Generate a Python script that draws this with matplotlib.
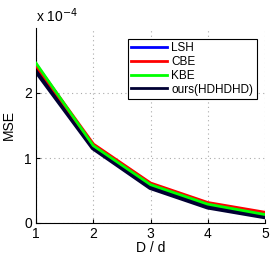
import numpy as np
import matplotlib
matplotlib.use("Agg")
import matplotlib.pyplot as plt

plt.rcParams["font.family"] = ["Liberation Sans", "DejaVu Sans"]

# values, in units of 1e-4
ratio = [1, 2, 3, 4, 5]
lsh = [2.35, 1.16, 0.55, 0.25, 0.10]
cbe = [2.43, 1.21, 0.61, 0.31, 0.16]
kbe = [2.46, 1.19, 0.59, 0.29, 0.13]
ours = [2.35, 1.16, 0.55, 0.25, 0.10]

fig = plt.figure(figsize=(2.74, 2.59), dpi=100)
ax = fig.add_axes([36 / 274, 1 - 223 / 259, 229 / 274, 195 / 259])

ax.plot(ratio, lsh, color="blue", linewidth=2, label="LSH", zorder=2)
ax.plot(ratio, cbe, color="red", linewidth=2.5, label="CBE", zorder=3)
ax.plot(ratio, kbe, color="#00ff00", linewidth=2, label="KBE", zorder=4)
ax.plot(ratio, ours, color="#000033", linewidth=4, label="ours(HDHDHD)", zorder=2.5)

ax.set_xlim(1, 5)
ax.set_ylim(0, 3)
ax.set_xticks([1, 2, 3, 4, 5])
ax.set_yticks([0, 1, 2])
ax.tick_params(direction="in", length=3, labelsize=10, pad=3)
ax.grid(True, color="#aaaaaa", linestyle=(0, (1, 3)), linewidth=0.8)
for s in ["top", "right"]:
    ax.spines[s].set_visible(False)
ax.set_xlabel("D / d", fontsize=10, labelpad=0)
ax.set_ylabel("MSE", fontsize=10, labelpad=6)
fig.text(36 / 274, 1 - 22 / 259, r"x 10$^{-4}$", fontsize=10)

leg = ax.legend(loc="upper right", bbox_to_anchor=(0.99, 0.975), fontsize=8.5,
                fancybox=False, framealpha=1, edgecolor="black",
                handlelength=3.0, borderpad=0.3, labelspacing=0.15,
                handletextpad=0.4)
leg.get_frame().set_linewidth(0.8)
for line in leg.get_lines():
    line.set_linewidth(2)

fig.savefig("out.png", dpi=100)
